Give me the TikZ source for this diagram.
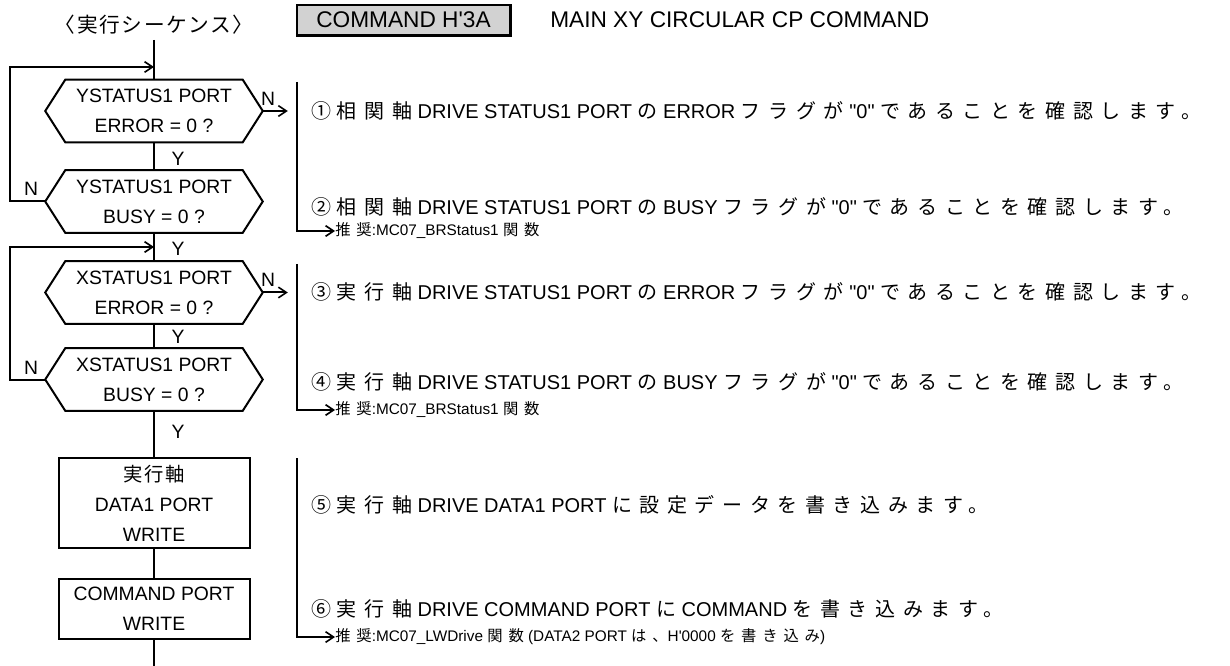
\documentclass[tikz,border=0pt]{standalone}
\usepackage{fontspec}
\setmainfont{Liberation Sans}
\newfontfamily\jpfont[LetterSpace=38]{Noto Sans CJK JP}
\newfontfamily\jptight[LetterSpace=8]{Noto Sans CJK JP}
\newcommand{\jp}[1]{{\jpfont #1}}
\newcommand{\qz}{\textquotedbl 0\textquotedbl}
\usetikzlibrary{calc,arrows.meta}

\begin{document}
\begin{tikzpicture}[x=0.75pt,y=-0.75pt,
  every node/.style={font=\fontsize{14.5}{22.5}\selectfont},
  flow/.style={line width=1.5pt},
  arr/.style={flow,-{Straight Barb[length=6pt,width=8pt,line width=1.2pt]}},
  decision/.style={minimum width=162.75pt,minimum height=46.5pt,inner sep=0pt,align=center},
  procbox/.style={draw,line width=1.5pt,minimum width=143.25pt,inner sep=0pt,align=center},
  note/.style={anchor=west,inner sep=0pt,font=\fontsize{15}{18}\selectfont},
  hint/.style={anchor=west,inner sep=0pt,font=\fontsize{11.5}{13}\selectfont},
  head/.style={inner sep=0pt,font=\fontsize{17}{19}\selectfont},
  bar/.style={line width=2pt,-{Straight Barb[length=6pt,width=8pt,line width=1.2pt]}}]

\useasboundingbox (0,0) rectangle (1230,666);

\node[inner sep=0pt,font=\fontsize{15.5}{17}\selectfont] (title) at (154,25) {\jptight 〈実行シーケンス〉};
\node[head,draw,fill=gray!35,line width=1pt,minimum width=159.75pt,minimum height=22.5pt] (cmd) at (403.5,20) {COMMAND H\textquotesingle 3A};
\draw[line width=2pt] (cmd.north east) -- (cmd.south east) -- (cmd.south west);
\node[head,anchor=west] (cmdname) at (550,20) {MAIN XY CIRCULAR CP COMMAND};

\node[decision] (ye) at (154,111) {YSTATUS1 PORT\\ERROR = 0 ?};
\node[decision] (yb) at (154,201.5) {YSTATUS1 PORT\\BUSY = 0 ?};
\node[decision] (xe) at (154,292.5) {XSTATUS1 PORT\\ERROR = 0 ?};
\node[decision] (xb) at (154,379.5) {XSTATUS1 PORT\\BUSY = 0 ?};
\node[procbox,minimum height=67.5pt] (wdata) at (154,503) {{\jptight 実行軸}\\DATA1 PORT\\WRITE};
\node[procbox,minimum height=45pt] (wcmd) at (154,609) {COMMAND PORT\\WRITE};
\foreach \dec in {ye,yb,xe,xb}
  \draw[flow] (\dec.west) -- ($(\dec.north west)+(20,0)$) -- ($(\dec.north east)+(-20,0)$) -- (\dec.east)
    -- ($(\dec.south east)+(-20,0)$) -- ($(\dec.south west)+(20,0)$) -- cycle;

\coordinate (start) at (154,40);
\coordinate (join1) at (154,67);
\coordinate (join2) at (154,247);
\coordinate (finish) at (154,666);
\draw[flow] (start) -- (ye.north);
\draw[flow] (ye.south) -- (yb.north);
\draw[flow] (yb.south) -- (xe.north);
\draw[flow] (xe.south) -- (xb.north);
\draw[flow] (xb.south) -- (wdata.north);
\draw[flow] (wdata.south) -- (wcmd.north);
\draw[flow] (wcmd.south) -- (finish);
\draw[arr] (yb.west) -- ++(-35,0) |- (join1);
\draw[arr] (xb.west) -- ++(-35,0) |- (join2);
\draw[arr] (ye.east) -- ++(25,0);
\draw[arr] (xe.east) -- ++(25,0);

\node (y1) at (178,159) {Y};
\node (y2) at (178,249) {Y};
\node (y3) at (178,337) {Y};
\node (y4) at (178,432) {Y};
\node (n1) at (268,99) {N};
\node (n2) at (31,189) {N};
\node (n3) at (268,280) {N};
\node (n4) at (31,368) {N};

\coordinate (b1top) at (297,82);
\coordinate (b2top) at (297,264);
\coordinate (b3top) at (297,458);
\node[hint] (h1) at (335,231) {\jp{推奨}:MC07\_BRStatus1 \jp{関数}};
\node[hint] (h2) at (335,410) {\jp{推奨}:MC07\_BRStatus1 \jp{関数}};
\node[hint] (h3) at (335,637) {\jp{推奨}:MC07\_LWDrive \jp{関数} (DATA2 PORT \jp{は、}H\textquotesingle 0000 \jp{を書き込み})};
\draw[bar] (b1top) |- (h1.west);
\draw[bar] (b2top) |- (h2.west);
\draw[bar] (b3top) |- (h3.west);

\node[note] (s1) at (311,111) {\jp{①} \jp{相関軸} DRIVE STATUS1 PORT \jp{の} ERROR \jp{フラグが} \qz{} \jp{であることを確認します。}};
\node[note] (s2) at (311,207) {\jp{②} \jp{相関軸} DRIVE STATUS1 PORT \jp{の} BUSY \jp{フラグが} \qz{} \jp{であることを確認します。}};
\node[note] (s3) at (311,292) {\jp{③} \jp{実行軸} DRIVE STATUS1 PORT \jp{の} ERROR \jp{フラグが} \qz{} \jp{であることを確認します。}};
\node[note] (s4) at (311,382) {\jp{④} \jp{実行軸} DRIVE STATUS1 PORT \jp{の} BUSY \jp{フラグが} \qz{} \jp{であることを確認します。}};
\node[note] (s5) at (311,505) {\jp{⑤} \jp{実行軸} DRIVE DATA1 PORT \jp{に設定データを書き込みます。}};
\node[note] (s6) at (311,609) {\jp{⑥} \jp{実行軸} DRIVE COMMAND PORT \jp{に} COMMAND \jp{を書き込みます。}};
\end{tikzpicture}
\end{document}
